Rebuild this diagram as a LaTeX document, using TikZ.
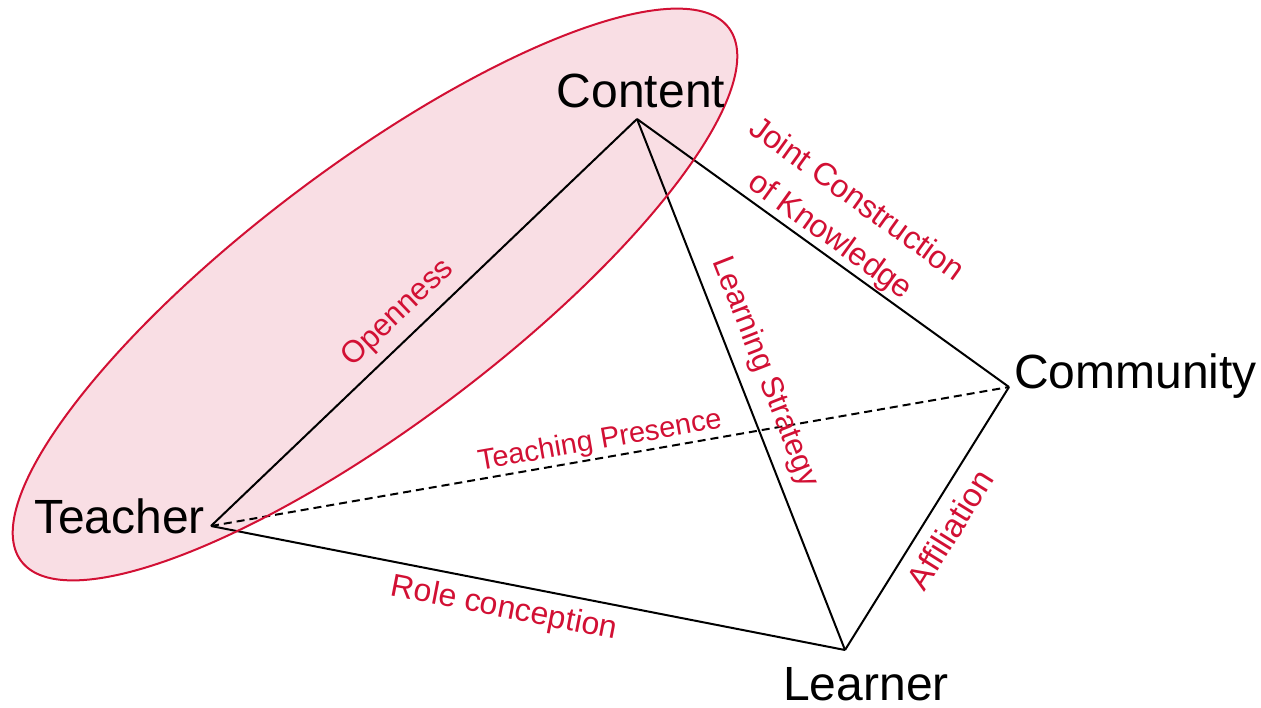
\documentclass[tikz,border=0pt]{standalone}
\usepackage{fontspec}
\setmainfont{Liberation Sans}
\definecolor{crim}{RGB}{210,16,52}
\definecolor{pinkfill}{RGB}{249,222,228}
\begin{document}
\begin{tikzpicture}[x=1pt,y=-1pt,
  edge/.style={line width=2pt, draw=black},
  dashededge/.style={edge, dash pattern=on 8pt off 5pt},
  vlabel/.style={font=\fontsize{48}{52}\selectfont, inner sep=0pt, text=black},
  elabel/.style={text=crim, sloped, inner sep=#1, outer sep=0pt},
  ring/.style={line width=2pt, draw=crim}
]
\useasboundingbox (0,0) rectangle (1261,707);
\fill[white] (0,0) rectangle (1261,707);

% shaded ellipse
\fill[pinkfill, rotate around={37:(375,294.5)}] (375,294.5) ellipse [x radius=443, y radius=129];

% apex points
\coordinate (teacher) at (211,526);
\coordinate (content) at (637,119);
\coordinate (community) at (1009,387);
\coordinate (learner) at (845,650);

% connectors
\draw[edge] (teacher) -- node[elabel=10pt, anchor=south, pos=0.479, font=\fontsize{31}{36}\selectfont] (openness) {Openness} (content);
\draw[dashededge] (teacher) -- node[elabel=3pt, anchor=south, pos=0.491, font=\fontsize{29}{34}\selectfont] (teaching) {Teaching Presence} (community);
\draw[edge] (teacher) -- node[elabel=10.5pt, anchor=north, pos=0.47, font=\fontsize{32}{36}\selectfont] (role) {Role conception} (learner);
\draw[edge] (content) -- node[elabel=12pt, anchor=south, pos=0.495, font=\fontsize{31}{36}\selectfont] (strategy) {Learning Strategy} (learner);
\draw[edge] (content) -- node[elabel=2pt, anchor=south, pos=0.491, align=center, font=\fontsize{32}{45}\selectfont] (joint) {Joint Construction\\of Knowledge} (community);
\draw[edge] (learner) -- node[elabel=13pt, anchor=north, pos=0.508, font=\fontsize{33}{38}\selectfont] (affiliation) {Affiliation} (community);

% ellipse outline
\draw[ring, rotate around={37:(375,294.5)}] (375,294.5) ellipse [x radius=443, y radius=129];

% vertex labels
\node[vlabel, anchor=base] (contentlabel) at (641,107) {Content};
\node[vlabel, anchor=base east] (teacherlabel) at (205,533) {Teacher};
\node[vlabel, anchor=base west] (communitylabel) at (1014,388) {Community};
\node[vlabel, anchor=base] (learnerlabel) at (866,700) {Learner};
\end{tikzpicture}
\end{document}
